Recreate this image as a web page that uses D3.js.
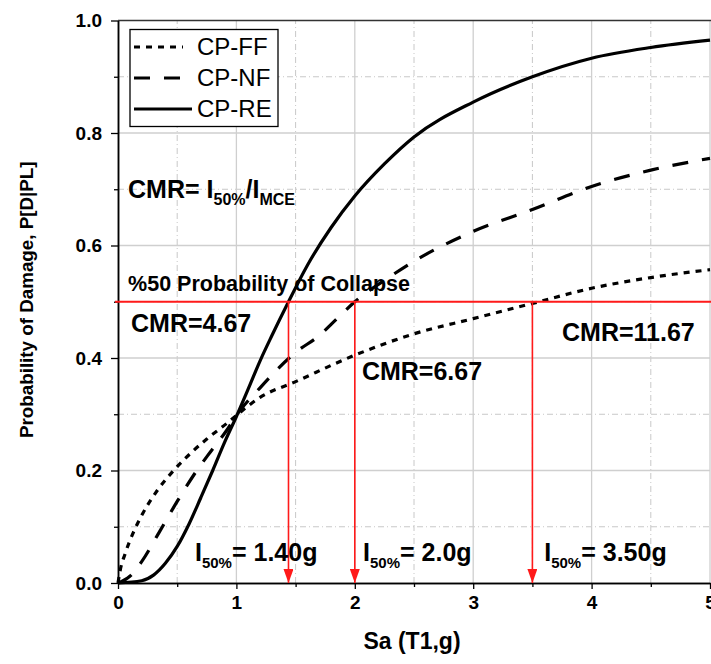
<!DOCTYPE html>
<html lang="en">
<head>
<meta charset="utf-8">
<title>Fragility curves</title>
<script src="https://cdnjs.cloudflare.com/ajax/libs/d3/7.8.5/d3.min.js"></script>
<style>
  body { margin: 0; background: #fff; }
  text { font-family: "Liberation Sans", Arial, sans-serif; }
</style>
</head>
<body>
<script>
// ---- data ----
var saFF = [0, 0.02, 0.06, 0.13, 0.21, 0.33, 0.47, 0.61, 0.75, 0.92, 1.0, 1.2, 1.5, 2.0, 2.5, 3.0, 3.5, 4.0, 4.5, 5.0];
var pFF  = [0, 0.024, 0.052, 0.09, 0.124, 0.164, 0.2, 0.23, 0.256, 0.284, 0.298, 0.33, 0.358, 0.405, 0.443, 0.47, 0.497, 0.524, 0.543, 0.557];

var saNF = [0, 0.1, 0.2, 0.35, 0.5, 0.64, 0.78, 0.92, 1.0, 1.2, 1.5, 1.7, 1.85, 2.0, 2.3, 2.5, 3.0, 3.5, 4.0, 4.5, 5.0];
var pNF  = [0, 0.012, 0.038, 0.091, 0.145, 0.192, 0.233, 0.272, 0.298, 0.347, 0.41, 0.44, 0.47, 0.50, 0.545, 0.572, 0.625, 0.664, 0.705, 0.734, 0.755];

var saRE = [0, 0.2, 0.3, 0.4, 0.5, 0.6, 0.7, 0.8, 0.9, 1.0, 1.1, 1.2, 1.3, 1.44, 1.6, 1.8, 2.0, 2.25, 2.5, 3.0, 3.5, 4.0, 4.5, 5.0];
var pRE  = [0, 0.004, 0.014, 0.035, 0.065, 0.105, 0.152, 0.2, 0.25, 0.296, 0.345, 0.395, 0.44, 0.5, 0.565, 0.632, 0.688, 0.745, 0.793, 0.855, 0.9, 0.933, 0.952, 0.965];

var seriesNames = ["CP-FF", "CP-NF", "CP-RE"];
var collapseP = 0.5;
var i50 = [1.44, 2.0, 3.5];
var i50Labels = ["1.40g", "2.0g", "3.50g"];
var cmrLabels = ["CMR=4.67", "CMR=6.67", "CMR=11.67"];

var xMajor = [0, 1, 2, 3, 4, 5];
var xMinor = [0.5, 1.5, 2.5, 3.5, 4.5];
var yMajor = [0, 0.2, 0.4, 0.6, 0.8, 1.0];
var yMinor = [0.1, 0.3, 0.5, 0.7, 0.9];

// ---- layout ----
var w = 711, h = 664;
var x = d3.scaleLinear().domain([0, 5]).range([118, 710]);
var y = d3.scaleLinear().domain([0, 1]).range([583, 20.5]);

var svg = d3.select("body").append("svg")
    .attr("width", w).attr("height", h);
svg.append("rect").attr("width", w).attr("height", h).attr("fill", "#fff");

// grid
var grid = svg.append("g");
grid.selectAll("line.gxm").data(xMinor).enter().append("line")
    .attr("x1", d => x(d)).attr("x2", d => x(d)).attr("y1", y(0)).attr("y2", y(1))
    .attr("stroke", "#c8c8c8").attr("stroke-dasharray", "6,3,1,3");
grid.selectAll("line.gym").data(yMinor).enter().append("line")
    .attr("y1", d => y(d)).attr("y2", d => y(d)).attr("x1", x(0)).attr("x2", x(5))
    .attr("stroke", "#c8c8c8").attr("stroke-dasharray", "6,3,1,3");
grid.selectAll("line.gx").data(xMajor.slice(1)).enter().append("line")
    .attr("x1", d => x(d)).attr("x2", d => x(d)).attr("y1", y(0)).attr("y2", y(1))
    .attr("stroke", "#cfcfcf").attr("stroke-width", 1.3);
grid.selectAll("line.gy").data(yMajor.slice(1, -1)).enter().append("line")
    .attr("y1", d => y(d)).attr("y2", d => y(d)).attr("x1", x(0)).attr("x2", x(5))
    .attr("stroke", "#cfcfcf").attr("stroke-width", 1.3);

// top frame
svg.append("line").attr("x1", x(0)).attr("x2", w).attr("y1", y(1)).attr("y2", y(1))
    .attr("stroke", "#333").attr("stroke-width", 1.5);

// axes
function styleAxis(g) {
  g.select(".domain").attr("stroke", "#000").attr("stroke-width", 1.5);
  g.selectAll(".tick line").attr("stroke", "#000").attr("stroke-width", 1.3);
  g.selectAll(".tick text").attr("fill", "#000")
    .style("font-size", "19px").style("font-weight", "bold")
    .style("font-family", "'Liberation Sans', Arial, sans-serif");
}
svg.append("g").attr("transform", "translate(0," + y(0) + ")")
    .call(d3.axisBottom(x).tickValues(xMinor).tickSize(4).tickFormat("").tickSizeOuter(0))
    .call(styleAxis);
svg.append("g").attr("transform", "translate(0," + y(0) + ")")
    .call(d3.axisBottom(x).tickValues(xMajor).tickSize(6).tickPadding(7).tickFormat(d3.format("d")).tickSizeOuter(0))
    .call(styleAxis);
svg.append("g").attr("transform", "translate(" + x(0) + ",0)")
    .call(d3.axisLeft(y).tickValues(yMinor).tickSize(4).tickFormat("").tickSizeOuter(0))
    .call(styleAxis);
svg.append("g").attr("transform", "translate(" + x(0) + ",0)")
    .call(d3.axisLeft(y).tickValues(yMajor).tickSize(7).tickPadding(9).tickFormat(d3.format(".1f")).tickSizeOuter(0))
    .call(styleAxis);

// axis titles
svg.append("text").attr("x", 412).attr("y", 649)
    .attr("text-anchor", "middle").style("font-size", "23px").style("font-weight", "bold")
    .text("Sa (T1,g)");
svg.append("text").attr("transform", "translate(33," + (y(0.5) - 2) + ") rotate(-90)")
    .attr("text-anchor", "middle").style("font-size", "18.8px").style("font-weight", "bold")
    .text("Probability of Damage, P[D|PL]");

// curves
var dashes = ["6,6", "16,14", null];
var curves = [
  d3.zip(saFF, pFF),
  d3.zip(saNF, pNF),
  d3.zip(saRE, pRE)
];
var line = d3.line().x(d => x(d[0])).y(d => y(d[1])).curve(d3.curveMonotoneX);
svg.selectAll("path.curve").data(curves).enter().append("path")
    .attr("class", "curve")
    .attr("d", line)
    .attr("fill", "none").attr("stroke", "#000").attr("stroke-width", 3.2)
    .attr("stroke-dasharray", (d, i) => dashes[i]);

// red collapse lines
var red = "#ff1a1a";
svg.append("defs").append("marker")
    .attr("id", "arrow").attr("viewBox", "0 0 14 10").attr("refX", 14).attr("refY", 5)
    .attr("markerWidth", 14).attr("markerHeight", 10).attr("markerUnits", "userSpaceOnUse")
    .attr("orient", "auto")
  .append("path").attr("d", "M0,0 L14,5 L0,10 Z").attr("fill", red);

svg.append("line").attr("x1", x(0) - 3).attr("x2", w).attr("y1", y(collapseP)).attr("y2", y(collapseP))
    .attr("stroke", red).attr("stroke-width", 2);
svg.selectAll("line.drop").data(i50).enter().append("line")
    .attr("x1", d => x(d)).attr("x2", d => x(d))
    .attr("y1", y(collapseP)).attr("y2", y(0))
    .attr("stroke", red).attr("stroke-width", 1.6)
    .attr("marker-end", "url(#arrow)");

// annotations
function bold(sz) { return function(t) { t.style("font-size", sz + "px").style("font-weight", "bold").attr("fill", "#000"); }; }

var cmr = svg.append("text").attr("x", x(0.085)).attr("y", y(0.684)).call(bold(25));
cmr.append("tspan").text("CMR= I");
cmr.append("tspan").attr("dy", 7).style("font-size", "16px").text("50%");
cmr.append("tspan").attr("dy", -7).text("/I");
cmr.append("tspan").attr("dy", 7).style("font-size", "16px").text("MCE");

svg.append("text").attr("x", x(0.085)).attr("y", y(0.519)).call(bold(21.5))
    .text("%50 Probability of Collapse");

var cmrPos = [[0.11, 0.447], [2.06, 0.361], [3.75, 0.43]];
svg.selectAll("text.cmr").data(cmrLabels).enter().append("text")
    .attr("x", (d, i) => x(cmrPos[i][0])).attr("y", (d, i) => y(cmrPos[i][1]))
    .call(bold(25)).text(d => d);

var i50X = [0.65, 2.07, 3.6];
i50Labels.forEach(function(lab, i) {
  var t = svg.append("text").attr("x", x(i50X[i])).attr("y", y(0.04)).call(bold(25));
  t.append("tspan").text("I");
  t.append("tspan").attr("dy", 7).style("font-size", "15px").text("50%");
  t.append("tspan").attr("dy", -7).text("= " + lab);
});

// legend
var lg = svg.append("g");
lg.append("rect").attr("x", 130).attr("y", 29.5).attr("width", 148).attr("height", 97)
    .attr("fill", "#fff").attr("stroke", "#000").attr("stroke-width", 1.3);
seriesNames.forEach(function(name, i) {
  var ly = 47 + i * 31;
  lg.append("line").attr("x1", 134).attr("x2", i == 2 ? 192 : 183).attr("y1", ly).attr("y2", ly)
      .attr("stroke", "#000").attr("stroke-width", 3.2).attr("stroke-dasharray", dashes[i]);
  lg.append("text").attr("x", 197).attr("y", ly + 8).style("font-size", "24px").text(name);
});
</script>
</body>
</html>
